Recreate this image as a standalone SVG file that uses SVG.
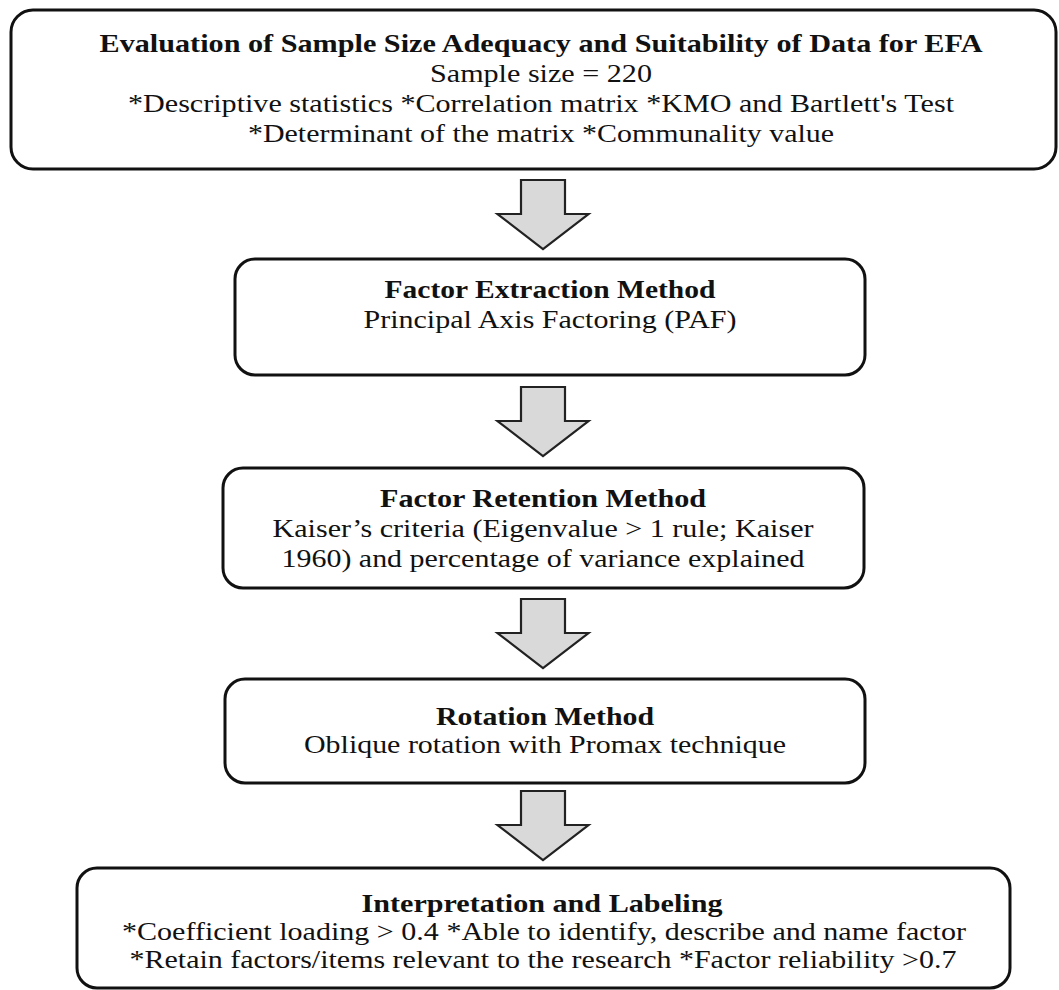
<svg xmlns="http://www.w3.org/2000/svg" width="1059" height="990" viewBox="0 0 1059 990">
<style>
.box{fill:#fff;stroke:#111;stroke-width:3}
.t{font-family:"Liberation Serif","Times New Roman",serif;font-size:25px;fill:#111;text-anchor:middle}
.b{font-weight:bold}
.arr{fill:#d9d9d9;stroke:#222;stroke-width:2.2;stroke-linejoin:miter}
</style>
<defs>
<path id="arrow" class="arr" d="M-22,0 H22 V34 H45.5 L0,69 L-45.5,34 H-22 Z"/>
</defs>
<rect width="1059" height="990" fill="#fff"/>
<g id="connectors">
<use href="#arrow" transform="translate(543,180)"/>
<use href="#arrow" transform="translate(543,387)"/>
<use href="#arrow" transform="translate(543,599)"/>
<use href="#arrow" transform="translate(543,791)"/>
</g>
<g id="node1">
<rect class="box" x="11" y="10" width="1045" height="159" rx="22"/>
<text class="t b" x="541" y="52" textLength="883" lengthAdjust="spacingAndGlyphs">Evaluation of Sample Size Adequacy and Suitability of Data for EFA</text>
<text class="t" x="541" y="82" textLength="222" lengthAdjust="spacingAndGlyphs">Sample size = 220</text>
<text class="t" x="541" y="112" textLength="826" lengthAdjust="spacingAndGlyphs">*Descriptive statistics *Correlation matrix *KMO and Bartlett's Test</text>
<text class="t" x="541" y="142" textLength="586" lengthAdjust="spacingAndGlyphs">*Determinant of the matrix *Communality value</text>
</g>
<g id="node2">
<rect class="box" x="235" y="259" width="630" height="116" rx="20"/>
<text class="t b" x="550" y="298" textLength="331" lengthAdjust="spacingAndGlyphs">Factor Extraction Method</text>
<text class="t" x="550" y="328" textLength="373" lengthAdjust="spacingAndGlyphs">Principal Axis Factoring (PAF)</text>
</g>
<g id="node3">
<rect class="box" x="223" y="468" width="641" height="120" rx="20"/>
<text class="t b" x="543" y="507" textLength="326" lengthAdjust="spacingAndGlyphs">Factor Retention Method</text>
<text class="t" x="543" y="537" textLength="541" lengthAdjust="spacingAndGlyphs">Kaiser’s criteria (Eigenvalue &gt; 1 rule; Kaiser</text>
<text class="t" x="543" y="567" textLength="523" lengthAdjust="spacingAndGlyphs">1960) and percentage of variance explained</text>
</g>
<g id="node4">
<rect class="box" x="225" y="679" width="640" height="104" rx="20"/>
<text class="t b" x="545" y="725" textLength="218" lengthAdjust="spacingAndGlyphs">Rotation Method</text>
<text class="t" x="545" y="753" textLength="482" lengthAdjust="spacingAndGlyphs">Oblique rotation with Promax technique</text>
</g>
<g id="node5">
<rect class="box" x="77" y="868" width="933" height="120" rx="20"/>
<text class="t b" x="542" y="912" textLength="361" lengthAdjust="spacingAndGlyphs">Interpretation and Labeling</text>
<text class="t" x="544" y="940" textLength="844" lengthAdjust="spacingAndGlyphs">*Coefficient loading &gt; 0.4 *Able to identify, describe and name factor</text>
<text class="t" x="543" y="968" textLength="827" lengthAdjust="spacingAndGlyphs">*Retain factors/items relevant to the research *Factor reliability &gt;0.7</text>
</g>
</svg>
